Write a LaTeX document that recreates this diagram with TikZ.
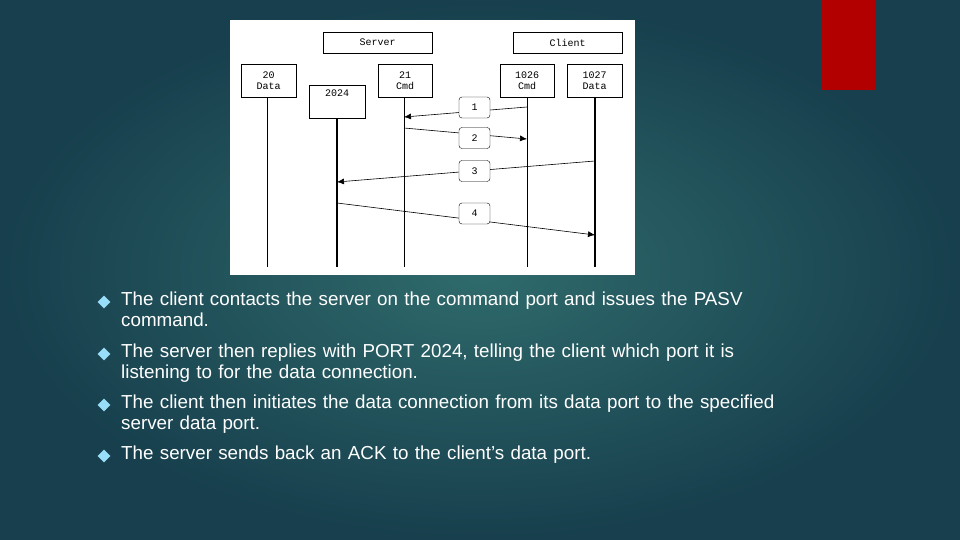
\documentclass[tikz,border=0pt]{standalone}
\usetikzlibrary{shapes.geometric,arrows.meta}
\usepackage{fontspec}
\setmainfont{Liberation Sans}
\newfontfamily\monof{Liberation Mono}
\begin{document}
\begin{tikzpicture}[x=1pt,y=-1pt,
  box/.style={draw=black,fill=white,line width=0.6pt,font=\monof\fontsize{10}{11}\selectfont,align=center,inner sep=0pt},
  life/.style={line width=0.8pt},
  msg/.style={line width=0.6pt,-{Latex[length=7pt,width=6pt]}},
  lbl/.style={draw=black,fill=white,rounded corners=3pt,minimum width=31pt,minimum height=21pt,inner sep=0pt,font=\monof\fontsize{10}{11}\selectfont},
  bul/.style={anchor=north west,text=white,font=\fontsize{18.8}{21}\selectfont,align=left,text width=720pt,inner sep=0pt},
  dia/.style={fill=cyan!40!white,draw=none,shape=diamond,inner sep=3.2pt}]
\useasboundingbox (0,0) rectangle (960,540);
\definecolor{bgA}{HTML}{173F4D}\definecolor{bgB}{HTML}{2F6B6C}
\shade[inner color=bgB,outer color=bgA] (0,0) rectangle (960,540);
\fill[red!70!black] (822,0) rectangle (876,90);
\fill[white] (230,20) rectangle (635,275);
\node[box,minimum width=109pt,minimum height=21pt] (srv) at (377.5,42.5) {Server};
\node[box,minimum width=109pt,minimum height=21pt] (cli) at (567.5,42.5) {Client};
\node[box,minimum width=55pt,minimum height=33pt] (d20) at (268.5,80.5) {20\\Data};
\node[box,minimum width=56pt,minimum height=33pt,anchor=north,text depth=18pt] (p24) at (337,85) {2024};
\node[box,minimum width=54pt,minimum height=33pt] (c21) at (405,80.5) {21\\Cmd};
\node[box,minimum width=54pt,minimum height=33pt] (c26) at (527,80.5) {1026\\Cmd};
\node[box,minimum width=55pt,minimum height=33pt] (d27) at (594.5,80.5) {1027\\Data};
\coordinate (e20) at (267,267);\coordinate (e24) at (337,267);\coordinate (e21) at (404,267);
\coordinate (e26) at (527,267);\coordinate (e27) at (595,267);
\draw[life] (d20.south -| e20) -- (e20);
\draw[life,line width=1.4pt] (p24.south -| e24) -- (e24);
\draw[life] (c21.south -| e21) -- (e21);
\draw[life] (c26.south -| e26) -- (e26);
\draw[life,line width=1.4pt] (d27.south -| e27) -- (e27);
\coordinate (a1) at (527,107);\coordinate (b1) at (404,117);
\coordinate (a2) at (404,128);\coordinate (b2) at (527,139);
\coordinate (a3) at (595,161);\coordinate (b3) at (337,182);
\coordinate (a4) at (337,203);\coordinate (b4) at (595,235);
\draw[msg] (a1) -- (b1);\draw[msg] (a2) -- (b2);\draw[msg] (a3) -- (b3);\draw[msg] (a4) -- (b4);
\node[lbl] (l1) at (474.5,107.5) {1};
\node[lbl] (l2) at (474.5,138) {2};
\node[lbl] (l3) at (474.5,171) {3};
\node[lbl] (l4) at (474.5,213.5) {4};
\node[dia] (k1) at (104,302) {};
\node[dia] (k2) at (104,354) {};
\node[dia] (k3) at (104,405) {};
\node[dia] (k4) at (104,456) {};
\node[bul] (t1) at (121,292) {The client contacts the server on the command port and issues the PASV\\command.};
\node[bul] (t2) at (121,344) {The server then replies with PORT 2024, telling the client which port it is\\listening to for the data connection.};
\node[bul] (t3) at (121,395) {The client then initiates the data connection from its data port to the specified\\server data port.};
\node[bul] (t4) at (121,446) {The server sends back an ACK to the client's data port.};
\end{tikzpicture}
\end{document}
